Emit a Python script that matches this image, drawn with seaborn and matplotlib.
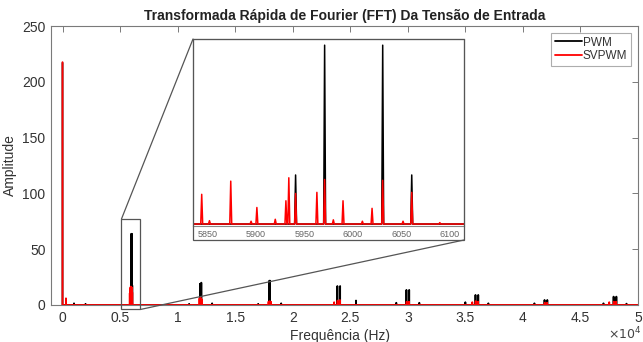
import numpy as np
import pandas as pd
import matplotlib
matplotlib.use("Agg")
import matplotlib.pyplot as plt
from matplotlib.patches import Rectangle, ConnectionPatch
import seaborn as sns

# ---------------- data ----------------
title = "Transformada Rápida de Fourier (FFT) Da Tensão de Entrada"
x_label = "Frequência (Hz)"
y_label = "Amplitude"
series_names = ["PWM", "SVPWM"]

f_end = 50000  # last FFT bin

pwm_freq = [0, 1000, 2000, 5941, 5971, 6031, 6061, 11000, 11940, 12060, 13000,
            17000, 17970, 18030, 19000, 23880, 24120, 25500, 29000, 29880, 30120,
            31000, 35000, 35880, 36120, 37000, 41000, 41880, 42120, 47000, 47880,
            48120, 49000]
pwm_amp = [217.0, 1.5, 1.0, 17.5, 63.8, 63.8, 17.5, 1.0, 19.0, 20.0, 1.5,
           1.0, 21.8, 21.8, 1.5, 17.0, 17.0, 4.0, 2.0, 13.5, 13.5,
           2.0, 2.5, 9.0, 9.0, 1.5, 1.5, 4.5, 4.5, 1.5, 7.5,
           7.5, 1.2]

svpwm_freq = [0, 300, 5844, 5852, 5874, 5895, 5901, 5920, 5931, 5934, 5941, 5963,
              5971, 5980, 5990, 6010, 6020, 6031, 6052, 6061, 6090,
              11900, 12000, 12100, 17900, 18000, 18100, 23600, 23900, 24100,
              29900, 30100, 35600, 35900, 36100, 41900, 42100, 47500, 47900, 48100]
svpwm_amp = [217.6, 6.0, 10.6, 1.2, 15.3, 1.0, 5.9, 1.7, 8.3, 16.5, 10.9, 11.3,
             15.9, 1.5, 8.3, 1.0, 5.6, 15.6, 1.0, 11.3, 0.5,
             6.0, 6.5, 5.0, 3.0, 3.5, 3.0, 2.5, 4.0, 4.5,
             3.0, 3.0, 2.5, 3.5, 3.0, 2.0, 2.0, 2.5, 3.0, 3.0]

main_xticks = [0, 5000, 10000, 15000, 20000, 25000, 30000, 35000, 40000, 45000, 50000]
main_xticklabels = ["0", "0.5", "1", "1.5", "2", "2.5", "3", "3.5", "4", "4.5", "5"]
main_yticks = [0, 50, 100, 150, 200, 250]
inset_xticks = [5850, 5900, 5950, 6000, 6050, 6100]

# ---------------- build line table ----------------
HALF_W = 1.0  # peak half width (Hz), style only


def spectrum(freqs, amps, name):
    xs, ys = [], []
    for f, a in zip(freqs, amps):
        if f == 0:
            xs += [f, f + HALF_W]
            ys += [a, 0.0]
        else:
            xs += [f - HALF_W, f, f + HALF_W]
            ys += [0.0, a, 0.0]
    xs.append(f_end)
    ys.append(0.0)
    return pd.DataFrame({"freq": xs, "amp": ys, "series": name})


df = pd.concat([spectrum(pwm_freq, pwm_amp, series_names[0]),
                spectrum(svpwm_freq, svpwm_amp, series_names[1])],
               ignore_index=True)
palette = {"PWM": "black", "SVPWM": "#ff0000"}

# ---------------- figure ----------------
sns.set_theme(style="white")
plt.rcParams["font.family"] = ["Liberation Sans", "DejaVu Sans"]
W, H = 643, 342
fig = plt.figure(figsize=(W / 100, H / 100), dpi=100)
fig.patch.set_facecolor("white")

def fx(px):
    return px / W

def fy(py):
    return 1 - py / H

axL, axR, axT, axB = 51, 638, 26, 305
ax = fig.add_axes([fx(axL), fy(axB), fx(axR - axL), (axB - axT) / H])
sns.lineplot(data=df, x="freq", y="amp", hue="series", hue_order=series_names,
             palette=palette, estimator=None, sort=False, linewidth=1.3, ax=ax)
ax.set_xlim(-1000, 50000)
ax.set_ylim(0, 250)
ax.set_xticks(main_xticks)
ax.set_xticklabels(main_xticklabels)
ax.set_yticks(main_yticks)
spine_c = "#7a7a7a"
for s in ax.spines.values():
    s.set_color(spine_c)
    s.set_linewidth(0.8)
ax.tick_params(direction="in", top=True, right=True, length=4, width=0.7,
               color=spine_c, labelsize=10, labelcolor="#333333", pad=4)
ax.set_xlabel(x_label, fontsize=10, color="#333333")
ax.set_ylabel(y_label, fontsize=10, color="#333333")
ax.xaxis.set_label_coords((340 - axL) / (axR - axL), -(329 - axB) / (axB - axT))
ax.yaxis.set_label_coords(-(axL - 17) / (axR - axL), 0.5)
ax.set_title(title, fontsize=10, fontweight="bold", color="#222222", pad=4)
fig.text(fx(641), fy(334), r"$\times10^{4}$", fontsize=9, color="#444444",
         va="center", ha="right")

leg = ax.legend(loc="upper right", fontsize=8.5, frameon=True, handlelength=2.3,
                handletextpad=0.1, borderpad=0.3, labelspacing=0.15,
                borderaxespad=0.6, fancybox=False)
leg.get_frame().set_edgecolor("#999999")
leg.get_frame().set_linewidth(0.8)
for t in leg.get_texts():
    t.set_color("#333333")

# zoom rectangle on main axes
zx0, zx1, zy0, zy1 = 5120, 6770, -4, 77
ax.add_patch(Rectangle((zx0, zy0), zx1 - zx0, zy1 - zy0, fill=False,
                       edgecolor="#555555", linewidth=0.9, clip_on=False, zorder=5))

# inset
iL, iR, iT, iB, iFB = 193, 464, 39, 226, 240
ins = fig.add_axes([fx(iL), fy(iB), fx(iR - iL), (iB - iT) / H])
ins.set_facecolor("white")
sns.lineplot(data=df, x="freq", y="amp", hue="series", hue_order=series_names,
             palette=palette, estimator=None, sort=False, linewidth=1.1,
             legend=False, ax=ins)
ins.set_xlim(5835, 6115)
ins.set_ylim(-0.7, 66)
ins.set_xticks(inset_xticks)
ins.set_yticks([])
ins.set_xlabel("")
ins.set_ylabel("")
for s in ins.spines.values():
    s.set_color("#888888")
    s.set_linewidth(0.8)
ins.tick_params(direction="in", length=0, labelsize=6.5, labelcolor="#666666", pad=3)

fig.add_artist(Rectangle((fx(iL), fy(iFB)), fx(iR - iL), (iFB - iT) / H,
                         transform=fig.transFigure, fill=False,
                         edgecolor="#555555", linewidth=0.9))

# connector lines
c1 = ConnectionPatch(xyA=(zx0, zy1), coordsA=ax.transData,
                     xyB=(fx(iL), fy(iT)), coordsB=fig.transFigure,
                     color="#555555", linewidth=0.9)
c2 = ConnectionPatch(xyA=(zx1, zy0), coordsA=ax.transData,
                     xyB=(fx(iR), fy(iFB)), coordsB=fig.transFigure,
                     color="#555555", linewidth=0.9)
fig.add_artist(c1)
fig.add_artist(c2)

fig.savefig("out.png", dpi=100)
